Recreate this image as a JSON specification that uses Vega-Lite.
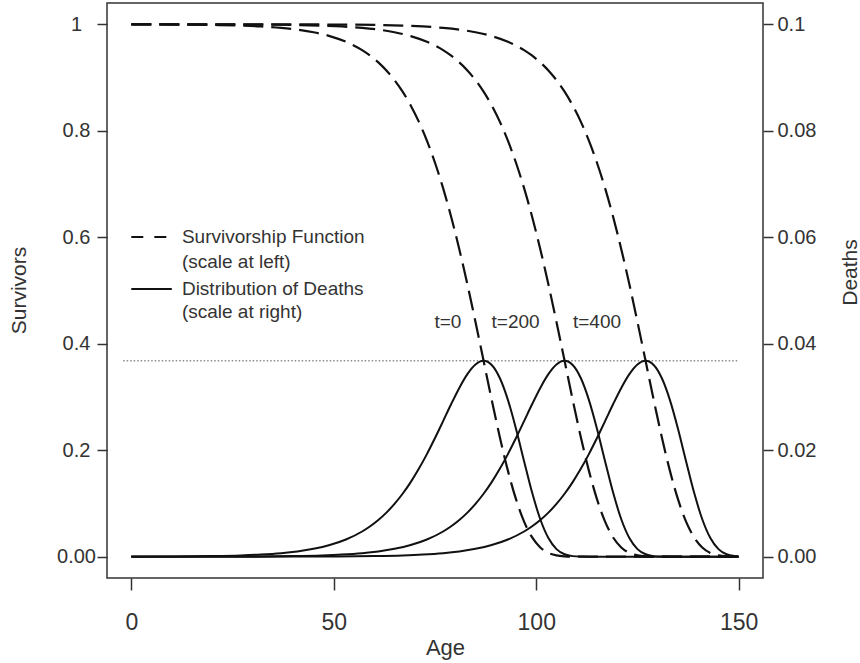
{
  "$schema": "https://vega.github.io/schema/vega-lite/v6.json",
  "width": 656,
  "height": 575,
  "autosize": {"type": "none"},
  "padding": {"left": 107, "top": 3, "right": 97, "bottom": 85},
  "background": "white",
  "config": {
    "font": "Liberation Sans",
    "view": {"stroke": "#333", "strokeWidth": 1.5}
  },
  "datasets": {
    "curves": [
      {"age": 0, "t": "t=0", "S": 0.99983, "D": 0.000017},
      {"age": 10, "t": "t=0", "S": 0.99955, "D": 0.000045},
      {"age": 20, "t": "t=0", "S": 0.99877, "D": 0.000123},
      {"age": 27, "t": "t=0", "S": 0.99752, "D": 0.000247},
      {"age": 32, "t": "t=0", "S": 0.99592, "D": 0.000407},
      {"age": 37, "t": "t=0", "S": 0.99328, "D": 0.000669},
      {"age": 41, "t": "t=0", "S": 0.99000, "D": 0.000995},
      {"age": 45, "t": "t=0", "S": 0.98512, "D": 0.001477},
      {"age": 49, "t": "t=0", "S": 0.97788, "D": 0.002188},
      {"age": 53, "t": "t=0", "S": 0.96718, "D": 0.003228},
      {"age": 57, "t": "t=0", "S": 0.95143, "D": 0.004737},
      {"age": 59, "t": "t=0", "S": 0.94100, "D": 0.005722},
      {"age": 61, "t": "t=0", "S": 0.92842, "D": 0.006896},
      {"age": 63, "t": "t=0", "S": 0.91328, "D": 0.008285},
      {"age": 65, "t": "t=0", "S": 0.89512, "D": 0.009918},
      {"age": 67, "t": "t=0", "S": 0.87342, "D": 0.011820},
      {"age": 69, "t": "t=0", "S": 0.84764, "D": 0.014011},
      {"age": 71, "t": "t=0", "S": 0.81718, "D": 0.016499},
      {"age": 73, "t": "t=0", "S": 0.78146, "D": 0.019271},
      {"age": 75, "t": "t=0", "S": 0.73994, "D": 0.022287},
      {"age": 77, "t": "t=0", "S": 0.69220, "D": 0.025465},
      {"age": 79, "t": "t=0", "S": 0.63806, "D": 0.028670},
      {"age": 81, "t": "t=0", "S": 0.57763, "D": 0.031701},
      {"age": 83, "t": "t=0", "S": 0.51155, "D": 0.034290},
      {"age": 85, "t": "t=0", "S": 0.44099, "D": 0.036105},
      {"age": 87, "t": "t=0", "S": 0.36788, "D": 0.036788},
      {"age": 89, "t": "t=0", "S": 0.29482, "D": 0.036010},
      {"age": 91, "t": "t=0", "S": 0.22496, "D": 0.033560},
      {"age": 93, "t": "t=0", "S": 0.16168, "D": 0.029460},
      {"age": 95, "t": "t=0", "S": 0.10801, "D": 0.024038},
      {"age": 97, "t": "t=0", "S": 0.06599, "D": 0.017938},
      {"age": 99, "t": "t=0", "S": 0.03615, "D": 0.012002},
      {"age": 101, "t": "t=0", "S": 0.01733, "D": 0.007028},
      {"age": 103, "t": "t=0", "S": 0.00706, "D": 0.003497},
      {"age": 105, "t": "t=0", "S": 0.00236, "D": 0.001427},
      {"age": 107, "t": "t=0", "S": 0.00062, "D": 0.000457},
      {"age": 109, "t": "t=0", "S": 0.00012, "D": 0.000109},
      {"age": 111, "t": "t=0", "S": 0.00002, "D": 0.000018},
      {"age": 113, "t": "t=0", "S": 0, "D": 0.000002},
      {"age": 117, "t": "t=0", "S": 0, "D": 0},
      {"age": 130, "t": "t=0", "S": 0, "D": 0},
      {"age": 150, "t": "t=0", "S": 0, "D": 0},

      {"age": 0, "t": "t=200", "S": 0.99998, "D": 0.000002},
      {"age": 20, "t": "t=200", "S": 0.99983, "D": 0.000017},
      {"age": 30, "t": "t=200", "S": 0.99955, "D": 0.000045},
      {"age": 40, "t": "t=200", "S": 0.99877, "D": 0.000123},
      {"age": 47, "t": "t=200", "S": 0.99752, "D": 0.000247},
      {"age": 52, "t": "t=200", "S": 0.99592, "D": 0.000407},
      {"age": 57, "t": "t=200", "S": 0.99328, "D": 0.000669},
      {"age": 61, "t": "t=200", "S": 0.99000, "D": 0.000995},
      {"age": 65, "t": "t=200", "S": 0.98512, "D": 0.001477},
      {"age": 69, "t": "t=200", "S": 0.97788, "D": 0.002188},
      {"age": 73, "t": "t=200", "S": 0.96718, "D": 0.003228},
      {"age": 77, "t": "t=200", "S": 0.95143, "D": 0.004737},
      {"age": 79, "t": "t=200", "S": 0.94100, "D": 0.005722},
      {"age": 81, "t": "t=200", "S": 0.92842, "D": 0.006896},
      {"age": 83, "t": "t=200", "S": 0.91328, "D": 0.008285},
      {"age": 85, "t": "t=200", "S": 0.89512, "D": 0.009918},
      {"age": 87, "t": "t=200", "S": 0.87342, "D": 0.011820},
      {"age": 89, "t": "t=200", "S": 0.84764, "D": 0.014011},
      {"age": 91, "t": "t=200", "S": 0.81718, "D": 0.016499},
      {"age": 93, "t": "t=200", "S": 0.78146, "D": 0.019271},
      {"age": 95, "t": "t=200", "S": 0.73994, "D": 0.022287},
      {"age": 97, "t": "t=200", "S": 0.69220, "D": 0.025465},
      {"age": 99, "t": "t=200", "S": 0.63806, "D": 0.028670},
      {"age": 101, "t": "t=200", "S": 0.57763, "D": 0.031701},
      {"age": 103, "t": "t=200", "S": 0.51155, "D": 0.034290},
      {"age": 105, "t": "t=200", "S": 0.44099, "D": 0.036105},
      {"age": 107, "t": "t=200", "S": 0.36788, "D": 0.036788},
      {"age": 109, "t": "t=200", "S": 0.29482, "D": 0.036010},
      {"age": 111, "t": "t=200", "S": 0.22496, "D": 0.033560},
      {"age": 113, "t": "t=200", "S": 0.16168, "D": 0.029460},
      {"age": 115, "t": "t=200", "S": 0.10801, "D": 0.024038},
      {"age": 117, "t": "t=200", "S": 0.06599, "D": 0.017938},
      {"age": 119, "t": "t=200", "S": 0.03615, "D": 0.012002},
      {"age": 121, "t": "t=200", "S": 0.01733, "D": 0.007028},
      {"age": 123, "t": "t=200", "S": 0.00706, "D": 0.003497},
      {"age": 125, "t": "t=200", "S": 0.00236, "D": 0.001427},
      {"age": 127, "t": "t=200", "S": 0.00062, "D": 0.000457},
      {"age": 129, "t": "t=200", "S": 0.00012, "D": 0.000109},
      {"age": 131, "t": "t=200", "S": 0.00002, "D": 0.000018},
      {"age": 133, "t": "t=200", "S": 0, "D": 0.000002},
      {"age": 137, "t": "t=200", "S": 0, "D": 0},
      {"age": 150, "t": "t=200", "S": 0, "D": 0},

      {"age": 0, "t": "t=400", "S": 1, "D": 0},
      {"age": 20, "t": "t=400", "S": 0.99998, "D": 0.000002},
      {"age": 40, "t": "t=400", "S": 0.99983, "D": 0.000017},
      {"age": 50, "t": "t=400", "S": 0.99955, "D": 0.000045},
      {"age": 60, "t": "t=400", "S": 0.99877, "D": 0.000123},
      {"age": 67, "t": "t=400", "S": 0.99752, "D": 0.000247},
      {"age": 72, "t": "t=400", "S": 0.99592, "D": 0.000407},
      {"age": 77, "t": "t=400", "S": 0.99328, "D": 0.000669},
      {"age": 81, "t": "t=400", "S": 0.99000, "D": 0.000995},
      {"age": 85, "t": "t=400", "S": 0.98512, "D": 0.001477},
      {"age": 89, "t": "t=400", "S": 0.97788, "D": 0.002188},
      {"age": 93, "t": "t=400", "S": 0.96718, "D": 0.003228},
      {"age": 97, "t": "t=400", "S": 0.95143, "D": 0.004737},
      {"age": 99, "t": "t=400", "S": 0.94100, "D": 0.005722},
      {"age": 101, "t": "t=400", "S": 0.92842, "D": 0.006896},
      {"age": 103, "t": "t=400", "S": 0.91328, "D": 0.008285},
      {"age": 105, "t": "t=400", "S": 0.89512, "D": 0.009918},
      {"age": 107, "t": "t=400", "S": 0.87342, "D": 0.011820},
      {"age": 109, "t": "t=400", "S": 0.84764, "D": 0.014011},
      {"age": 111, "t": "t=400", "S": 0.81718, "D": 0.016499},
      {"age": 113, "t": "t=400", "S": 0.78146, "D": 0.019271},
      {"age": 115, "t": "t=400", "S": 0.73994, "D": 0.022287},
      {"age": 117, "t": "t=400", "S": 0.69220, "D": 0.025465},
      {"age": 119, "t": "t=400", "S": 0.63806, "D": 0.028670},
      {"age": 121, "t": "t=400", "S": 0.57763, "D": 0.031701},
      {"age": 123, "t": "t=400", "S": 0.51155, "D": 0.034290},
      {"age": 125, "t": "t=400", "S": 0.44099, "D": 0.036105},
      {"age": 127, "t": "t=400", "S": 0.36788, "D": 0.036788},
      {"age": 129, "t": "t=400", "S": 0.29482, "D": 0.036010},
      {"age": 131, "t": "t=400", "S": 0.22496, "D": 0.033560},
      {"age": 133, "t": "t=400", "S": 0.16168, "D": 0.029460},
      {"age": 135, "t": "t=400", "S": 0.10801, "D": 0.024038},
      {"age": 137, "t": "t=400", "S": 0.06599, "D": 0.017938},
      {"age": 139, "t": "t=400", "S": 0.03615, "D": 0.012002},
      {"age": 141, "t": "t=400", "S": 0.01733, "D": 0.007028},
      {"age": 143, "t": "t=400", "S": 0.00706, "D": 0.003497},
      {"age": 145, "t": "t=400", "S": 0.00236, "D": 0.001427},
      {"age": 147, "t": "t=400", "S": 0.00062, "D": 0.000457},
      {"age": 149, "t": "t=400", "S": 0.00012, "D": 0.000109},
      {"age": 150, "t": "t=400", "S": 0.00005, "D": 0.000047}
    ],
    "modeLevel": [
      {"age": -2, "age2": 150, "S": 0.3679}
    ],
    "keySamples": [
      {"kind": "survivorship", "age": 0, "age2": 9, "S": 0.6005},
      {"kind": "deaths", "age": 0, "age2": 10, "S": 0.5028}
    ],
    "keyText": [
      {"age": 12.5, "S": 0.6005, "label": "Survivorship Function"},
      {"age": 12.5, "S": 0.5535, "label": "(scale at left)"},
      {"age": 12.5, "S": 0.5028, "label": "Distribution of Deaths"},
      {"age": 12.5, "S": 0.4596, "label": "(scale at right)"}
    ],
    "curveNames": [
      {"age": 78.2, "S": 0.4408, "label": "t=0"},
      {"age": 94.9, "S": 0.4408, "label": "t=200"},
      {"age": 115.0, "S": 0.4408, "label": "t=400"}
    ]
  },
  "encoding": {
    "x": {
      "field": "age", "type": "quantitative",
      "scale": {"domain": [-6, 156], "nice": false, "zero": false},
      "axis": {
        "values": [0, 50, 100, 150],
        "title": "Age", "titleFontSize": 22, "titleFontWeight": "normal", "titleColor": "#333",
        "titleX": 338, "titleY": 76, "titleBaseline": "alphabetic",
        "labelFontSize": 23, "labelColor": "#333", "labelPadding": 21, "labelFlush": false,
        "tickSize": 12, "tickColor": "#333", "tickWidth": 1.5,
        "domain": false, "grid": false
      }
    }
  },
  "layer": [
    {
      "encoding": {
        "y": {
          "field": "S", "type": "quantitative",
          "scale": {"domain": [-0.04, 1.04], "nice": false, "zero": false},
          "axis": {
            "values": [0, 0.2, 0.4, 0.6, 0.8, 1],
            "labelExpr": "datum.value == 0 ? '0.00' : format(datum.value, '~g')",
            "title": "Survivors", "titleFontSize": 21, "titleFontWeight": "normal", "titleColor": "#333",
            "titleAngle": -90, "titleX": -82, "titleY": 287, "titleBaseline": "alphabetic", "titleAlign": "center",
            "labelAlign": "center", "labelBaseline": "middle", "labelPadding": 21,
            "labelFontSize": 20, "labelColor": "#333", "labelFlush": false,
            "tickSize": 10, "tickColor": "#333", "tickWidth": 1.5,
            "domain": false, "grid": false
          }
        }
      },
      "layer": [
        {
          "data": {"name": "curves"},
          "mark": {"type": "line", "color": "#111", "strokeWidth": 2.2, "strokeDash": [20, 8], "interpolate": "monotone"},
          "encoding": {"detail": {"field": "t"}}
        },
        {
          "data": {"name": "modeLevel"},
          "mark": {"type": "rule", "color": "#555", "strokeWidth": 1, "strokeDash": [1.5, 2]},
          "encoding": {"x2": {"field": "age2"}}
        },
        {
          "data": {"name": "keySamples"},
          "mark": {"type": "rule", "color": "#111", "strokeWidth": 2.2},
          "encoding": {
            "x2": {"field": "age2"},
            "strokeDash": {
              "field": "kind", "type": "nominal",
              "scale": {"domain": ["survivorship", "deaths"], "range": [[12, 11], [1, 0]]},
              "legend": null
            }
          }
        },
        {
          "data": {"name": "keyText"},
          "mark": {"type": "text", "align": "left", "baseline": "middle", "fontSize": 19, "color": "#333"},
          "encoding": {"text": {"field": "label"}}
        },
        {
          "data": {"name": "curveNames"},
          "mark": {"type": "text", "align": "center", "baseline": "middle", "fontSize": 19, "color": "#333"},
          "encoding": {"text": {"field": "label"}}
        }
      ]
    },
    {
      "data": {"name": "curves"},
      "mark": {"type": "line", "color": "#111", "strokeWidth": 2, "interpolate": "monotone"},
      "encoding": {
        "y": {
          "field": "D", "type": "quantitative",
          "scale": {"domain": [-0.004, 0.104], "nice": false, "zero": false},
          "axis": {
            "orient": "right",
            "values": [0, 0.02, 0.04, 0.06, 0.08, 0.1],
            "labelExpr": "datum.value == 0 ? '0.00' : format(datum.value, '~g')",
            "title": "Deaths", "titleFontSize": 21, "titleFontWeight": "normal", "titleColor": "#333",
            "titleAngle": -90, "titleX": 93, "titleY": 269, "titleBaseline": "alphabetic", "titleAlign": "center",
            "labelAlign": "left", "labelBaseline": "middle", "labelPadding": 4,
            "labelFontSize": 20, "labelColor": "#333", "labelFlush": false,
            "tickSize": 10, "tickColor": "#333", "tickWidth": 1.5,
            "domain": false, "grid": false
          }
        },
        "detail": {"field": "t"}
      }
    }
  ],
  "resolve": {"scale": {"y": "independent"}}
}
